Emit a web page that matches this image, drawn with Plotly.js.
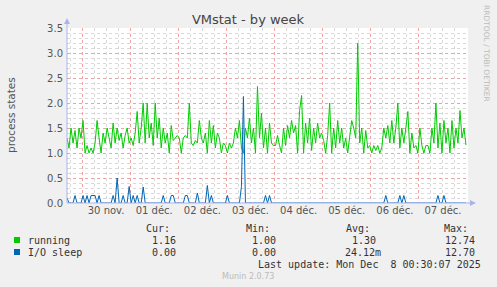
<!DOCTYPE html>
<html><head><meta charset="utf-8">
<script src="https://cdn.plot.ly/plotly-3.0.1.min.js"></script>
<style>html,body{margin:0;padding:0;background:#F0F0F0;}</style>
</head><body><div id="chart" style="width:497px;height:287px;"></div>
<script>
// ---- data (hourly samples, starting 2025-11-29 16:30) ----
const startTime = '2025-11-29T16:30:00Z';
const endTime = '2025-12-08T00:30:00Z';
const stepHours = 1;
const dayLabels = ['30 nov.','01 déc.','02 déc.','03 déc.','04 déc.','05 déc.','06 déc.','07 déc.'];
const dayNoon = ['2025-11-30 12:00','2025-12-01 12:00','2025-12-02 12:00','2025-12-03 12:00','2025-12-04 12:00','2025-12-05 12:00','2025-12-06 12:00','2025-12-07 12:00'];
const seriesNames = ['running','I/O sleep'];
const running = [
1.3,1.1,1.5,1.2,1.45,1.1,1.5,1.3,1.65,1.0,
1.15,1.0,1.1,1.0,1.2,1.65,1.3,1.0,1.4,1.2,
1.5,1.3,1.1,1.6,1.2,1.5,1.25,1.4,1.1,1.35,
1.5,1.2,1.3,1.15,1.4,1.83,1.2,1.5,2.0,1.2,
2.0,1.3,1.6,1.15,2.0,1.3,1.7,1.1,1.5,1.2,
1.4,1.0,1.55,1.25,1.3,1.35,1.3,1.0,1.3,1.35,
1.3,2.0,1.2,1.15,1.25,1.2,1.65,1.3,1.2,1.4,
1.0,1.65,1.2,1.55,1.1,1.4,1.3,1.0,1.2,1.15,
1.0,1.2,1.1,1.2,1.5,1.3,1.65,1.1,1.0,1.5,
1.3,1.7,1.2,1.5,1.0,2.33,1.3,1.8,1.1,1.5,
1.0,1.6,1.2,1.15,1.15,1.35,1.15,1.0,1.5,1.15,
1.55,1.3,1.65,1.4,1.55,1.0,1.85,2.15,1.0,1.6,
1.2,1.7,1.05,1.5,1.2,1.6,1.3,1.4,1.25,1.0,
1.35,2.0,1.0,1.5,1.1,1.65,1.2,1.5,1.1,1.3,
1.0,1.4,1.65,1.5,1.3,3.2,1.2,1.5,1.0,1.45,
1.1,1.15,1.0,1.15,1.05,1.15,1.0,1.1,1.5,1.3,
1.55,1.2,1.65,1.2,1.5,2.0,1.1,1.5,1.2,1.5,
1.83,1.0,1.4,1.1,1.15,1.0,1.5,1.15,1.0,1.15,
1.15,1.0,1.5,1.2,2.0,1.1,1.6,1.0,1.65,1.2,
1.5,1.0,1.65,1.1,1.5,1.2,1.85,1.3,1.5,1.16];
const ioSleep = [
0.1,0,0,0,0.15,0,0,0,0.15,0,0.15,0,0.15,0.15,0.15,0,0.15,0,0,0,
0,0,0,0.15,0,0.5,0,0,0.15,0,0,0.33,0,0.15,0,0.15,0,0,0.32,0,
0,0,0,0,0,0,0,0,0.15,0,0,0,0.15,0.15,0,0,0,0,0,0.15,
0.15,0,0,0,0,0.2,0,0,0,0,0.35,0,0.15,0,0,0,0,0,0,0,
0.15,0,0,0,0,0,0,0.33,2.13,0,0,0,0,0,0,0,0,0,0,0.15,
0,0.15,0,0,0,0,0,0,0,0,0,0,0,0,0,0,0,0,0,0,
0,0,0,0,0,0,0,0,0,0,0,0,0,0,0,0,0,0,0,0,
0,0,0,0,0,0,0,0,0,0,0,0,0,0,0,0,0,0,0,0.15,
0,0,0,0,0,0,0.15,0,0.15,0,0,0,0,0,0,0,0,0,0,0,
0,0,0,0,0,0.15,0,0,0.15,0,0,0,0,0,0,0,0,0,0,0];
const legendCur = ['1.16','0.00'];
const legendMin = ['1.00','0.00'];
const legendAvg = ['1.30','24.12m'];
const legendMax = ['12.74','12.70'];
const colors = ['#00CC00','#0066B3'];

// ---- build ----
const t0 = Date.parse(startTime);
function iso(ms){ return new Date(ms).toISOString().slice(0,19).replace('T',' '); }
const times = running.map((_, i) => iso(t0 + i*stepHours*3600000));
const xr = [iso(t0), iso(Date.parse(endTime))];

const W=497, H=287, L=67, R=468, T=28, B=203;
const px = x => (x-L)/(R-L);
const py = y => (B-y)/(B-T);

const traces = [
 {x: times, y: running, type:'scatter', mode:'lines', name:seriesNames[0], line:{color:colors[0], width:1}, xaxis:'x', yaxis:'y', hoverinfo:'skip'},
 {x: times, y: ioSleep, type:'scatter', mode:'lines', name:seriesNames[1], line:{color:colors[1], width:1}, xaxis:'x2', yaxis:'y', hoverinfo:'skip'}
];

const mono = {family:'DejaVu Sans Mono', size:10, color:'#333'};
const ann = [];
function txt(s, x, y, anchor, font, extra){ ann.push(Object.assign({text:s, xref:'paper', yref:'paper', x:px(x), y:py(y), xanchor:anchor, yanchor:'middle', showarrow:false, font:font}, extra||{})); }
txt('Cur:', 172, 228, 'right', mono);
txt('Min:', 272, 228, 'right', mono);
txt('Avg:', 372, 228, 'right', mono);
txt('Max:', 470, 228, 'right', mono);
const rowsY = [240, 252];
for (let i=0;i<2;i++){
  txt(seriesNames[i], 26, rowsY[i], 'left', mono);
  txt(legendCur[i], 178, rowsY[i], 'right', mono);
  txt(legendMin[i], 278, rowsY[i], 'right', mono);
  txt(legendAvg[i], i===0?378:383, rowsY[i], 'right', mono);
  txt(legendMax[i], 477, rowsY[i], 'right', mono);
}
txt('Last update: Mon Dec  8 00:30:07 2025', 483, 264, 'right', mono);
txt('Munin 2.0.73', 248, 276, 'center', {family:'DejaVu Sans', size:8, color:'#BBBBBB'});
txt('process states', 11, 115, 'center', {family:'DejaVu Sans', size:10.5, color:'#555'}, {textangle:-90});
txt('RRDTOOL / TOBI OETIKER', 487, 53, 'center', {family:'DejaVu Sans', size:7.5, color:'#BBBBBB'}, {textangle:90});

const axisCol = '#AAB4EC';
const shapes = [];
for (let i=0;i<2;i++){
  shapes.push({type:'rect', xref:'paper', yref:'paper', x0:px(14), x1:px(20), y0:py(rowsY[i]-3), y1:py(rowsY[i]+3), fillcolor:colors[i], line:{width:0}});
}
// axis extensions + arrowheads
shapes.push({type:'line', xref:'paper', yref:'paper', x0:px(67), x1:px(67), y0:py(203), y1:py(22), line:{color:axisCol, width:1}});
shapes.push({type:'line', xref:'paper', yref:'paper', x0:px(67), x1:px(472), y0:py(203), y1:py(203), line:{color:axisCol, width:1}});
shapes.push({type:'path', xref:'paper', yref:'paper', path:`M ${px(64)} ${py(24)} L ${px(70)} ${py(24)} L ${px(67)} ${py(18)} Z`, fillcolor:axisCol, line:{width:0}});
shapes.push({type:'path', xref:'paper', yref:'paper', path:`M ${px(470)} ${py(200)} L ${px(470)} ${py(206)} L ${px(476)} ${py(203)} Z`, fillcolor:axisCol, line:{width:0}});

const majorGrid = '#EBA3A3', minorGrid = '#D9D9D9';
const layout = {
  width:W, height:H, margin:{l:L, r:W-R, t:T, b:H-B}, paper_bgcolor:'#F0F0F0', plot_bgcolor:'#FFFFFF',
  showlegend:false, font:{family:'DejaVu Sans', size:10, color:'#555'},
  title:{text:'VMstat - by week', x:248/W, xref:'container', xanchor:'center', y:1-19/H, yref:'container', yanchor:'middle', font:{family:'DejaVu Sans', size:13, color:'#444'}},
  xaxis:{type:'date', range:xr, tickmode:'array', tickvals:dayNoon, ticktext:dayLabels, showgrid:false, zeroline:false, showline:false, ticks:'', tickfont:{size:10, color:'#555'}, fixedrange:true},
  xaxis2:{type:'date', overlaying:'x', anchor:'y', side:'bottom', range:xr, tickmode:'linear', tick0:'2025-11-30 00:00', dtick:86400000, showticklabels:false, ticks:'', showgrid:true, gridcolor:majorGrid, griddash:'dot', gridwidth:1, zeroline:false, showline:false,
          minor:{tickmode:'linear', tick0:'2025-11-30 00:00', dtick:21600000, showgrid:true, gridcolor:minorGrid, griddash:'dot', gridwidth:1, ticks:''}},
  yaxis:{range:[0,3.5], tickmode:'linear', tick0:0, dtick:0.5, tickformat:'.1f', showgrid:true, gridcolor:majorGrid, griddash:'dot', gridwidth:1, zeroline:false, showline:false, ticks:'', ticklabelstandoff:3, tickfont:{size:10, color:'#555'},
         minor:{tickmode:'linear', tick0:0, dtick:0.1, showgrid:true, gridcolor:minorGrid, griddash:'dot', gridwidth:1, ticks:''}},
  annotations:ann, shapes:shapes
};
Plotly.newPlot('chart', traces, layout, {staticPlot:true, displayModeBar:false});
</script></body></html>
